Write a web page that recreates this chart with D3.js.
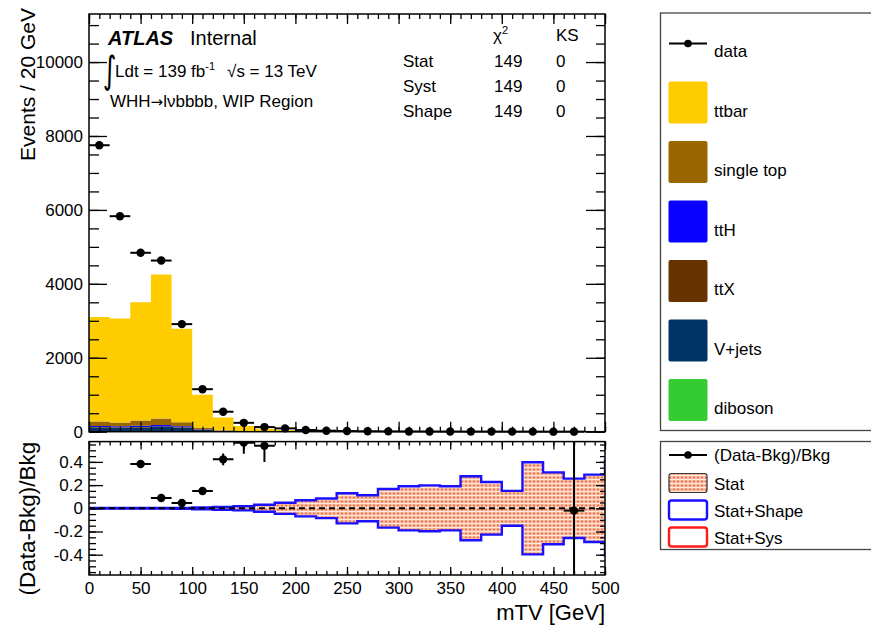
<!DOCTYPE html>
<html>
<head>
<meta charset="utf-8">
<script src="https://cdn.jsdelivr.net/npm/d3@7"></script>
<style>
  html, body { margin: 0; padding: 0; background: #fff; }
  svg { display: block; font-family: "Liberation Sans", Arial, Helvetica, sans-serif; }
</style>
</head>
<body>
<svg id="chart" width="871" height="626"></svg>
<script>
// ---- binning: mTV in 20 GeV bins ----
const binEdges = [0, 20, 40, 60, 80, 100, 120, 140, 160, 180, 200, 220, 240, 260, 280, 300,
                  320, 340, 360, 380, 400, 420, 440, 460, 480, 500];

// ---- background samples (events per bin) ----
const ttbar     = [2825, 2815, 3200, 3900, 2530, 895, 340, 140, 75, 40, 25, 15, 10, 8, 6, 5, 4, 3, 3, 2, 2, 1, 1, 1, 1];
const singleTop = [120, 105, 145, 175, 110, 40, 15, 6, 3, 2, 1, 1, 1, 0.5, 0.5, 0.3, 0.3, 0.2, 0.2, 0.1, 0.1, 0.1, 0.1, 0.1, 0.1];
const ttH       = [30, 25, 35, 40, 25, 10, 4, 2, 1, 0.5, 0.3, 0.2, 0.1, 0.1, 0.1, 0.1, 0, 0, 0, 0, 0, 0, 0, 0, 0];
const ttX       = [10, 10, 10, 15, 10, 5, 2, 1, 0.5, 0.3, 0.2, 0.1, 0.1, 0, 0, 0, 0, 0, 0, 0, 0, 0, 0, 0, 0];
const vjets     = [110, 105, 110, 120, 105, 50, 19, 4, 2, 1, 0.5, 0.3, 0.2, 0.1, 0.1, 0.1, 0, 0, 0, 0, 0, 0, 0, 0, 0];
const diboson   = [5, 5, 5, 5, 5, 2, 1, 0, 0, 0, 0, 0, 0, 0, 0, 0, 0, 0, 0, 0, 0, 0, 0, 0, 0];

// ---- observed data ----
const data    = [7750, 5830, 4840, 4630, 2910, 1150, 540, 240, 125, 90, 45, 27, 18, 12, 9, 7, 5, 4, 3, 3, 2, 2, 1, 1, null];
const dataErr = [88, 76, 70, 68, 54, 34, 23, 15, 11, 9, 7, 5, 4, 3.5, 3, 2.6, 2.2, 2, 1.7, 1.7, 1.4, 1.4, 1, 1, null];

// ---- ratio panel: (Data-Bkg)/Bkg and uncertainty bands ----
const ratio    = [1.50, 0.90, 0.382, 0.089, 0.046, 0.149, 0.422, 0.566, 0.54, null, null, null, null, null, null,
                  null, null, null, null, null, null, null, null, -0.02, null];
const ratioErr = [0.03, 0.03, 0.02, 0.02, 0.02, 0.035, 0.05, 0.096, 0.14, null, null, null, null, null, null,
                  null, null, null, null, null, null, null, null, 1.2, null];
const statErr  = [0.003, 0.003, 0.003, 0.003, 0.004, 0.008, 0.012, 0.018, 0.03, 0.048, 0.07, 0.085, 0.13, 0.112,
                  0.167, 0.19, 0.198, 0.19, 0.276, 0.227, 0.15, 0.397, 0.31, 0.256, 0.29];
const shapeErr = [0.003, 0.003, 0.003, 0.003, 0.004, 0.008, 0.012, 0.018, 0.03, 0.048, 0.07, 0.085, 0.13, 0.112,
                  0.167, 0.19, 0.198, 0.19, 0.276, 0.227, 0.15, 0.397, 0.31, 0.256, 0.29];
const shapeOverflow = 0.42;

// ---- axis ticks ----
const xMajor = [0, 50, 100, 150, 200, 250, 300, 350, 400, 450, 500];
const yMajor = [0, 2000, 4000, 6000, 8000, 10000];
const rMajor = [-0.4, -0.2, 0, 0.2, 0.4];

// ---- legend entries ----
const sampleNames  = ["ttbar", "single top", "ttH", "ttX", "V+jets", "diboson"];
const sampleColors = ["#ffcc00", "#996600", "#0a00ff", "#663300", "#003366", "#33cc33"];
const stackOrder   = ["diboson", "V+jets", "ttX", "ttH", "single top", "ttbar"];
const stackValues  = { "ttbar": ttbar, "single top": singleTop, "ttH": ttH, "ttX": ttX, "V+jets": vjets, "diboson": diboson };

// ---- layout ----
const svg = d3.select("#chart");
const P = { left: 89, right: 605, top: 14, bottom: 431.7 };
const R = { top: 441.6, bottom: 575 };

const x  = d3.scaleLinear().domain([0, 500]).range([P.left, P.right]);
const y  = d3.scaleLinear().domain([0, 11300]).range([P.bottom, P.top]);
const yr = d3.scaleLinear().domain([-0.575, 0.575]).range([R.bottom, R.top]);

const defs = svg.append("defs");
const pat = defs.append("pattern").attr("id", "statDots")
  .attr("patternUnits", "userSpaceOnUse").attr("width", 4).attr("height", 4);
pat.append("rect").attr("width", 4).attr("height", 4).attr("fill", "#f8bfa5");
pat.append("rect").attr("x", 0).attr("y", 3).attr("width", 4).attr("height", 1).attr("fill", "#fde8de");
pat.append("circle").attr("cx", 2).attr("cy", 1.5).attr("r", 1.1).attr("fill", "#e8714a");

defs.append("clipPath").attr("id", "ratioClip").append("rect")
  .attr("x", P.left).attr("y", R.top).attr("width", P.right - P.left).attr("height", R.bottom - R.top);

// step helpers
function stepPts(lo, hi) {
  const pts = [];
  for (let i = 0; i < binEdges.length - 1; i++) {
    pts.push({ x: binEdges[i], lo: lo[i], hi: hi[i] });
    pts.push({ x: binEdges[i + 1], lo: lo[i], hi: hi[i] });
  }
  return pts;
}

// ---- main panel: stacked backgrounds ----
const rows = binEdges.slice(0, -1).map((e, i) => {
  const r = {};
  stackOrder.forEach(k => r[k] = stackValues[k][i]);
  return r;
});
const stacked = d3.stack().keys(stackOrder)(rows);
const gStack = svg.append("g");
stacked.forEach(layer => {
  const lo = layer.map(d => d[0]), hi = layer.map(d => d[1]);
  const area = d3.area().x(p => x(p.x)).y0(p => y(p.lo)).y1(p => y(p.hi));
  gStack.append("path")
    .attr("d", area(stepPts(lo, hi)))
    .attr("fill", sampleColors[sampleNames.indexOf(layer.key)]);
});

// ---- main panel: data points ----
const gData = svg.append("g");
data.forEach((v, i) => {
  if (v == null) return;
  const cx = x((binEdges[i] + binEdges[i + 1]) / 2);
  gData.append("line").attr("x1", x(binEdges[i])).attr("x2", x(binEdges[i + 1]))
    .attr("y1", y(v)).attr("y2", y(v)).attr("stroke", "#000").attr("stroke-width", 2);
  gData.append("line").attr("x1", cx).attr("x2", cx)
    .attr("y1", y(v - dataErr[i])).attr("y2", y(v + dataErr[i])).attr("stroke", "#000").attr("stroke-width", 2);
  gData.append("circle").attr("cx", cx).attr("cy", y(v)).attr("r", 4.2).attr("fill", "#000");
});

// ---- axes helpers ----
function styleAxis(g) {
  g.select(".domain").remove();
  g.selectAll(".tick line").attr("stroke", "#000").attr("stroke-width", 1.3);
  g.selectAll("text").attr("fill", "#000").attr("font-size", 17)
    .attr("font-family", "\"Liberation Sans\", Arial, Helvetica, sans-serif");
  return g;
}
const xMinor = d3.range(0, 501, 10);
const yMinor = d3.range(0, 11300, 500);
const rMinor = d3.range(-0.55, 0.56, 0.05);

// main panel axes (ticks pointing inward)
svg.append("g").attr("transform", `translate(${P.left},0)`)
  .call(d3.axisLeft(y).tickValues(yMinor).tickSize(-10).tickFormat("")).call(styleAxis);
svg.append("g").attr("transform", `translate(${P.left},0)`)
  .call(d3.axisLeft(y).tickValues(yMajor).tickSizeInner(-18).tickSizeOuter(0).tickPadding(6)
    .tickFormat(d3.format("d"))).call(styleAxis);
svg.append("g").attr("transform", `translate(${P.right},0)`)
  .call(d3.axisRight(y).tickValues(yMinor).tickSize(-9).tickFormat("")).call(styleAxis);
svg.append("g").attr("transform", `translate(${P.right},0)`)
  .call(d3.axisRight(y).tickValues(yMajor).tickSize(-19).tickFormat("")).call(styleAxis);
svg.append("g").attr("transform", `translate(0,${P.bottom})`)
  .call(d3.axisBottom(x).tickValues(xMinor).tickSize(-5).tickFormat("")).call(styleAxis);
svg.append("g").attr("transform", `translate(0,${P.bottom})`)
  .call(d3.axisBottom(x).tickValues(xMajor).tickSize(-10).tickFormat("")).call(styleAxis);
svg.append("g").attr("transform", `translate(0,${P.top})`)
  .call(d3.axisTop(x).tickValues(xMinor).tickSize(-5).tickFormat("")).call(styleAxis);
svg.append("g").attr("transform", `translate(0,${P.top})`)
  .call(d3.axisTop(x).tickValues(xMajor).tickSize(-10).tickFormat("")).call(styleAxis);

svg.append("rect").attr("x", P.left).attr("y", P.top)
  .attr("width", P.right - P.left).attr("height", P.bottom - P.top)
  .attr("fill", "none").attr("stroke", "#000").attr("stroke-width", 1.5);

// ---- ratio panel ----
const gR = svg.append("g").attr("clip-path", "url(#ratioClip)");
const zeros = statErr.map(() => 0);
const bandArea = d3.area().x(p => x(p.x)).y0(p => yr(-p.hi)).y1(p => yr(p.hi));
gR.append("path").attr("d", bandArea(stepPts(zeros, statErr))).attr("fill", "url(#statDots)");

const upLine = d3.line().x(p => x(p.x)).y(p => yr(p.hi));
const dnLine = d3.line().x(p => x(p.x)).y(p => yr(-p.hi));
const sp = stepPts(zeros, shapeErr);
gR.append("path").attr("d", upLine(sp)).attr("fill", "none").attr("stroke", "#1a10ff").attr("stroke-width", 2.4);
gR.append("path").attr("d", dnLine(sp)).attr("fill", "none").attr("stroke", "#1a10ff").attr("stroke-width", 2.4);
const last = shapeErr[shapeErr.length - 1];
gR.append("line").attr("x1", x(500)).attr("x2", x(500)).attr("y1", yr(last)).attr("y2", yr(shapeOverflow))
  .attr("stroke", "#1a10ff").attr("stroke-width", 2.4);
gR.append("line").attr("x1", x(500)).attr("x2", x(500)).attr("y1", yr(-last)).attr("y2", yr(-shapeOverflow))
  .attr("stroke", "#1a10ff").attr("stroke-width", 2.4);

gR.append("line").attr("x1", x(0)).attr("x2", x(500)).attr("y1", yr(0)).attr("y2", yr(0))
  .attr("stroke", "#000").attr("stroke-width", 2).attr("stroke-dasharray", "6,4");

ratio.forEach((v, i) => {
  if (v == null) return;
  const cx = x((binEdges[i] + binEdges[i + 1]) / 2);
  gR.append("line").attr("x1", x(binEdges[i])).attr("x2", x(binEdges[i + 1]))
    .attr("y1", yr(v)).attr("y2", yr(v)).attr("stroke", "#000").attr("stroke-width", 2);
  gR.append("line").attr("x1", cx).attr("x2", cx)
    .attr("y1", yr(v - ratioErr[i])).attr("y2", yr(v + ratioErr[i])).attr("stroke", "#000").attr("stroke-width", 2);
  gR.append("circle").attr("cx", cx).attr("cy", yr(v)).attr("r", 4.2).attr("fill", "#000");
});

// ratio axes
svg.append("g").attr("transform", `translate(${P.left},0)`)
  .call(d3.axisLeft(yr).tickValues(rMinor).tickSize(-7).tickFormat("")).call(styleAxis);
svg.append("g").attr("transform", `translate(${P.left},0)`)
  .call(d3.axisLeft(yr).tickValues(rMajor).tickSizeInner(-14).tickSizeOuter(0).tickPadding(6)
    .tickFormat(d => d === 0 ? "0" : d.toFixed(1))).call(styleAxis);
svg.append("g").attr("transform", `translate(${P.right},0)`)
  .call(d3.axisRight(yr).tickValues(rMinor).tickSize(-5).tickFormat("")).call(styleAxis);
svg.append("g").attr("transform", `translate(${P.right},0)`)
  .call(d3.axisRight(yr).tickValues(rMajor).tickSize(-9).tickFormat("")).call(styleAxis);
svg.append("g").attr("transform", `translate(0,${R.bottom})`)
  .call(d3.axisBottom(x).tickValues(xMinor).tickSize(-4).tickFormat("")).call(styleAxis);
svg.append("g").attr("transform", `translate(0,${R.bottom})`)
  .call(d3.axisBottom(x).tickValues(xMajor).tickSizeInner(-8).tickSizeOuter(0).tickPadding(7)
    .tickFormat(d3.format("d"))).call(styleAxis);
svg.append("g").attr("transform", `translate(0,${R.top})`)
  .call(d3.axisTop(x).tickValues(xMinor).tickSize(-4).tickFormat("")).call(styleAxis);
svg.append("g").attr("transform", `translate(0,${R.top})`)
  .call(d3.axisTop(x).tickValues(xMajor).tickSize(-8).tickFormat("")).call(styleAxis);

svg.append("rect").attr("x", P.left).attr("y", R.top)
  .attr("width", P.right - P.left).attr("height", R.bottom - R.top)
  .attr("fill", "none").attr("stroke", "#000").attr("stroke-width", 1.5);

// ---- axis titles ----
svg.append("text").attr("transform", `translate(35,8) rotate(-90)`)
  .attr("text-anchor", "end").attr("font-size", 21).text("Events / 20 GeV");
svg.append("text").attr("transform", `translate(35,${R.top}) rotate(-90)`)
  .attr("text-anchor", "end").attr("font-size", 22.5).text("(Data-Bkg)/Bkg");
svg.append("text").attr("x", 605).attr("y", 620).attr("text-anchor", "end")
  .attr("font-size", 22).text("mTV [GeV]");

// ---- labels inside main panel ----
const lab = svg.append("g").attr("fill", "#000");
lab.append("text").attr("x", 108).attr("y", 45).attr("font-size", 20)
  .attr("font-weight", "bold").attr("font-style", "italic").text("ATLAS");
lab.append("text").attr("x", 190).attr("y", 45).attr("font-size", 20).text("Internal");
lab.append("text").attr("transform", "translate(103,83) scale(1,1.45)")
  .attr("font-size", 26).attr("font-family", "\"DejaVu Sans\", sans-serif").text("\u222B");
const lumi = lab.append("text").attr("x", 115).attr("y", 77).attr("font-size", 17);
lumi.append("tspan").text("Ldt = 139 fb");
lumi.append("tspan").attr("font-size", 11).attr("dy", -7).text("-1");
lumi.append("tspan").attr("dy", 7).attr("dx", 12).text("\u221As = 13 TeV");
const region = lab.append("text").attr("x", 110).attr("y", 107).attr("font-size", 17);
region.append("tspan").text("WHH");
region.append("tspan").attr("font-family", "\"DejaVu Sans\", sans-serif").attr("font-size", 15).text("\u2192");
region.append("tspan").text("l\u03BDbbbb, WIP Region");

// goodness-of-fit table
const fitRows = ["Stat", "Syst", "Shape"];
const chi2    = ["149", "149", "149"];
const ks      = ["0", "0", "0"];
const chiHead = lab.append("text").attr("x", 493).attr("y", 41).attr("font-size", 17);
chiHead.append("tspan").text("\u03C7");
chiHead.append("tspan").attr("font-size", 11).attr("dy", -7).text("2");
lab.append("text").attr("x", 556).attr("y", 41).attr("font-size", 17).text("KS");
fitRows.forEach((r, i) => {
  const by = 67 + i * 25;
  lab.append("text").attr("x", 403).attr("y", by).attr("font-size", 17).text(r);
  lab.append("text").attr("x", 494).attr("y", by).attr("font-size", 17).text(chi2[i]);
  lab.append("text").attr("x", 556).attr("y", by).attr("font-size", 17).text(ks[i]);
});

// ---- legends ----
const leg = svg.append("g");
leg.append("rect").attr("x", 660.5).attr("y", 13).attr("width", 240).attr("height", 417.5)
  .attr("fill", "#fff").attr("stroke", "#444").attr("stroke-width", 1.3);
leg.append("line").attr("x1", 669).attr("x2", 707).attr("y1", 43.5).attr("y2", 43.5)
  .attr("stroke", "#000").attr("stroke-width", 2);
leg.append("circle").attr("cx", 688).attr("cy", 43.5).attr("r", 3.8).attr("fill", "#000");
leg.append("text").attr("x", 714).attr("y", 57).attr("font-size", 17).text("data");
sampleNames.forEach((n, i) => {
  const top = 81.5 + i * 59.5;
  leg.append("rect").attr("x", 668.5).attr("y", top).attr("width", 39).attr("height", 42)
    .attr("rx", 2).attr("fill", sampleColors[i]);
  leg.append("text").attr("x", 714).attr("y", top + 35).attr("font-size", 17).text(n);
});

leg.append("rect").attr("x", 660.5).attr("y", 441.5).attr("width", 240).attr("height", 108)
  .attr("fill", "#fff").attr("stroke", "#444").attr("stroke-width", 1.3);
leg.append("line").attr("x1", 669).attr("x2", 707).attr("y1", 455).attr("y2", 455)
  .attr("stroke", "#000").attr("stroke-width", 2);
leg.append("circle").attr("cx", 688).attr("cy", 455).attr("r", 3.8).attr("fill", "#000");
leg.append("text").attr("x", 714).attr("y", 461).attr("font-size", 17).text("(Data-Bkg)/Bkg");
const bandLeg = [
  { name: "Stat", fill: "url(#statDots)", stroke: "#333", sw: 1.2 },
  { name: "Stat+Shape", fill: "none", stroke: "#1a10ff", sw: 2.4 },
  { name: "Stat+Sys", fill: "none", stroke: "#ff1a1a", sw: 2.4 }
];
bandLeg.forEach((b, i) => {
  const top = 473.5 + i * 27;
  leg.append("rect").attr("x", 669).attr("y", top).attr("width", 38).attr("height", 19)
    .attr("rx", 2.5).attr("fill", b.fill).attr("stroke", b.stroke).attr("stroke-width", b.sw);
  leg.append("text").attr("x", 714).attr("y", top + 16).attr("font-size", 17).text(b.name);
});
</script>
</body>
</html>
